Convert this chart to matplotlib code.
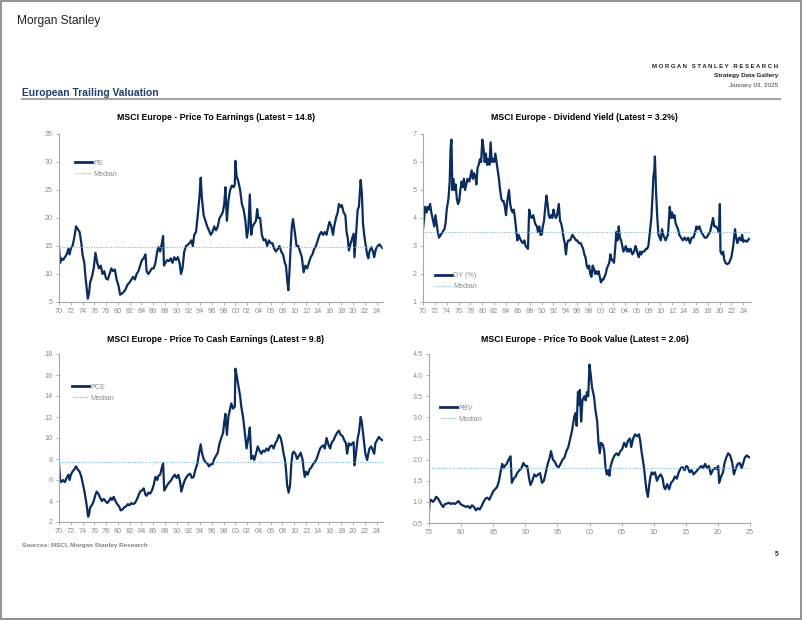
import matplotlib
matplotlib.use("Agg")
import matplotlib.pyplot as plt
from matplotlib.patches import Rectangle
from matplotlib.lines import Line2D

plt.rcParams['font.family'] = ['Liberation Sans', 'DejaVu Sans']

# ---------------- data ----------------
pe_years = [1970.0, 1970.2, 1970.4, 1970.7, 1971.0, 1971.3, 1971.6, 1971.8, 1972.0, 1972.3, 1972.6, 1972.9,
            1973.2, 1973.5, 1973.8, 1974.0, 1974.3, 1974.5, 1974.7, 1974.9, 1975.1, 1975.3, 1975.6, 1975.9,
            1976.2, 1976.5, 1976.8, 1977.1, 1977.4, 1977.7, 1978.0, 1978.3, 1978.6, 1978.9, 1979.2, 1979.5,
            1979.8, 1980.1, 1980.4, 1980.7, 1981.0, 1981.3, 1981.6, 1982.0, 1982.3, 1982.6, 1982.9, 1983.2,
            1983.5, 1983.8, 1984.1, 1984.4, 1984.7, 1984.9, 1985.2, 1985.5, 1985.8, 1986.1, 1986.4, 1986.7,
            1986.9, 1987.2, 1987.5, 1987.7, 1987.85, 1988.1, 1988.4, 1988.7, 1989.0, 1989.3, 1989.6, 1989.9,
            1990.2, 1990.5, 1990.75, 1991.0, 1991.3, 1991.6, 1991.9, 1992.2, 1992.5, 1992.75, 1993.0, 1993.3,
            1993.6, 1993.9, 1994.1, 1994.3, 1994.6, 1994.9, 1995.2, 1995.5, 1995.8, 1996.1, 1996.4, 1996.7,
            1997.0, 1997.3, 1997.6, 1997.85, 1998.1, 1998.3, 1998.55, 1998.8, 1999.1, 1999.4, 1999.7, 1999.9,
            2000.0, 2000.2, 2000.5, 2000.8, 2001.1, 2001.4, 2001.7, 2001.95, 2002.2, 2002.45, 2002.7, 2002.9,
            2003.2, 2003.5, 2003.7, 2003.9, 2004.2, 2004.5, 2004.8, 2005.1, 2005.4, 2005.7, 2006.0, 2006.3,
            2006.6, 2006.9, 2007.2, 2007.5, 2007.8, 2008.1, 2008.4, 2008.6, 2008.8, 2009.0, 2009.2, 2009.4,
            2009.6, 2009.8, 2010.1, 2010.4, 2010.7, 2011.0, 2011.3, 2011.6, 2011.9, 2012.2, 2012.5, 2012.8,
            2013.1, 2013.4, 2013.7, 2014.0, 2014.3, 2014.6, 2014.9, 2015.2, 2015.5, 2015.8, 2016.0, 2016.3,
            2016.6, 2016.8, 2017.1, 2017.4, 2017.6, 2017.9, 2018.1, 2018.4, 2018.7, 2018.9, 2019.1, 2019.3,
            2019.6, 2019.9, 2020.1, 2020.25, 2020.5, 2020.8, 2021.0, 2021.3, 2021.5, 2021.7, 2021.9, 2022.1,
            2022.4, 2022.6, 2022.8, 2023.1, 2023.4, 2023.6, 2023.9, 2024.2, 2024.5, 2024.8, 2024.95]
pe_values = [14.8, 12.0, 12.8, 12.5, 13.0, 13.5, 14.5, 13.5, 14.5, 15.0, 16.5, 18.5,
             18.0, 17.5, 15.5, 13.5, 12.0, 9.5, 7.5, 5.6, 6.5, 8.5, 9.5, 11.0,
             13.8, 12.0, 11.0, 11.5, 10.0, 10.5, 9.2, 9.0, 10.0, 11.0, 10.5, 10.8,
             9.0, 8.0, 6.3, 6.5, 6.8, 7.2, 8.0, 8.5, 9.0, 9.5, 9.0, 10.0,
             10.5, 11.5, 12.5, 12.8, 13.5, 10.5, 10.0, 10.5, 11.0, 11.0, 12.0, 14.0,
             14.8, 14.0, 15.5, 16.8, 11.5, 12.0, 12.5, 12.3, 12.8, 12.0, 13.0, 12.5,
             13.0, 12.0, 10.0, 11.0, 14.0, 15.0, 15.2, 15.5, 16.0, 15.0, 17.0, 17.5,
             20.5, 24.0, 27.2, 23.5, 20.5, 19.5, 18.5, 17.8, 17.0, 17.5, 18.5, 17.8,
             18.5, 20.0, 20.5, 21.0, 22.5, 25.5, 19.5, 23.0, 25.0, 25.8, 25.5, 26.0,
             30.2, 27.5, 26.5, 25.0, 22.5, 21.5, 19.5, 16.5, 18.0, 24.2, 17.0, 18.5,
             19.0, 19.5, 21.6, 20.0, 20.0, 17.0, 16.0, 16.2, 15.0, 16.0, 15.5, 15.5,
             14.5, 14.0, 14.5, 15.0, 14.0, 13.5, 12.0, 11.5, 9.0, 7.1, 10.5, 15.0,
             18.5, 19.8, 17.5, 15.0, 15.0, 14.0, 13.0, 10.3, 11.5, 11.0, 12.0, 13.0,
             13.5, 14.5, 15.0, 16.0, 17.0, 17.5, 17.0, 17.5, 17.0, 18.5, 19.3, 18.5,
             17.0, 18.5, 20.0, 21.0, 22.5, 22.0, 22.3, 21.0, 20.5, 17.5, 16.5, 14.2,
             15.5, 16.5, 17.2, 13.0, 17.0, 21.5, 22.0, 26.8, 24.5, 19.0, 17.0, 15.5,
             13.5, 12.8, 14.0, 14.8, 14.0, 13.0, 14.5, 15.0, 15.3, 14.8, 14.7]
pe_median = 14.8

dy_years = [1970.0, 1970.2, 1970.35, 1970.6, 1970.8, 1971.0, 1971.2, 1971.4, 1971.7, 1971.9, 1972.1, 1972.3,
            1972.5, 1972.7, 1973.0, 1973.3, 1973.6, 1973.8, 1974.0, 1974.3, 1974.5, 1974.65, 1974.8, 1974.95,
            1975.1, 1975.3, 1975.5, 1975.7, 1975.9, 1976.1, 1976.3, 1976.5, 1976.7, 1976.9, 1977.1, 1977.3,
            1977.5, 1977.8, 1978.0, 1978.2, 1978.4, 1978.6, 1978.8, 1979.0, 1979.2, 1979.4, 1979.6, 1979.8,
            1980.0, 1980.2, 1980.4, 1980.6, 1980.8, 1981.0, 1981.2, 1981.4, 1981.6, 1981.8, 1982.0, 1982.2,
            1982.4, 1982.6, 1982.8, 1983.0, 1983.2, 1983.4, 1983.6, 1983.8, 1984.0, 1984.2, 1984.5, 1984.7,
            1984.9, 1985.1, 1985.3, 1985.5, 1985.7, 1985.9, 1986.1, 1986.3, 1986.5, 1986.8, 1987.1, 1987.3,
            1987.7, 1987.9, 1988.1, 1988.3, 1988.6, 1988.9, 1989.2, 1989.4, 1989.6, 1989.8, 1990.0, 1990.2,
            1990.4, 1990.8, 1991.0, 1991.2, 1991.4, 1991.6, 1991.8, 1992.0, 1992.2, 1992.4, 1992.6, 1992.9,
            1993.1, 1993.3, 1993.5, 1993.7, 1993.9, 1994.1, 1994.3, 1994.5, 1994.8, 1995.0, 1995.2, 1995.5,
            1995.8, 1996.0, 1996.3, 1996.6, 1996.8, 1997.0, 1997.2, 1997.4, 1997.6, 1997.8, 1998.0, 1998.2,
            1998.4, 1998.6, 1998.8, 1999.0, 1999.2, 1999.4, 1999.6, 1999.8, 2000.0, 2000.2, 2000.4, 2000.6,
            2000.8, 2001.0, 2001.2, 2001.4, 2001.6, 2001.8, 2002.0, 2002.2, 2002.4, 2002.6, 2002.8, 2003.0,
            2003.2, 2003.4, 2003.6, 2003.8, 2004.0, 2004.2, 2004.4, 2004.6, 2004.8, 2005.0, 2005.3, 2005.6,
            2005.8, 2006.0, 2006.2, 2006.4, 2006.6, 2006.8, 2007.0, 2007.3, 2007.6, 2007.8, 2008.0, 2008.2,
            2008.5, 2008.7, 2008.85, 2009.0, 2009.1, 2009.3, 2009.5, 2009.7, 2009.9, 2010.1, 2010.3, 2010.5,
            2010.7, 2010.9, 2011.1, 2011.3, 2011.6, 2011.8, 2012.0, 2012.2, 2012.4, 2012.6, 2012.8, 2013.0,
            2013.2, 2013.5, 2013.8, 2014.1, 2014.4, 2014.7, 2015.0, 2015.3, 2015.6, 2015.9, 2016.1, 2016.3,
            2016.6, 2016.9, 2017.2, 2017.5, 2017.8, 2018.1, 2018.4, 2018.7, 2018.9, 2019.1, 2019.4, 2019.7,
            2019.9, 2020.05, 2020.15, 2020.4, 2020.6, 2020.8, 2021.0, 2021.3, 2021.6, 2021.8, 2022.0, 2022.3,
            2022.6, 2022.8, 2023.0, 2023.3, 2023.6, 2023.8, 2024.0, 2024.3, 2024.6, 2024.95]
dy_values = [3.6, 4.0, 4.4, 4.2, 4.4, 4.3, 4.5, 4.2, 3.9, 3.7, 4.1, 3.8,
             3.5, 3.3, 3.4, 3.5, 3.6, 3.8, 4.3, 4.7, 5.3, 6.5, 6.8, 5.0,
             5.4, 5.0, 5.2, 4.7, 4.5, 4.6, 5.0, 5.3, 5.1, 5.4, 5.0, 5.2,
             5.4, 5.3, 5.5, 5.7, 5.4, 5.6, 5.5, 5.2, 5.8, 5.9, 6.1, 6.0,
             6.8, 6.5, 6.0, 6.3, 5.9, 6.1, 5.9, 6.7, 6.0, 6.1, 6.0, 6.3,
             6.0, 5.7, 5.4, 5.0, 4.7, 4.6, 4.6, 4.4, 4.1, 4.6, 5.0, 4.5,
             4.3, 4.2, 4.3, 4.0, 3.6, 3.2, 3.4, 3.3, 3.2, 3.1, 3.2, 3.0,
             2.9, 4.3, 4.1, 4.0, 4.1, 3.8, 3.7, 3.5, 3.7, 3.4, 3.4, 3.7,
             3.9, 4.8, 4.5, 4.1, 4.0, 4.1, 4.0, 4.3, 4.1, 4.0, 4.1, 4.5,
             3.9, 3.8, 3.6, 3.3, 3.1, 2.7, 3.1, 3.2, 3.2, 3.3, 3.4, 3.3,
             3.2, 3.2, 3.1, 3.1, 3.0, 2.9, 2.7, 2.6, 2.3, 2.2, 2.3, 2.0,
             1.9, 2.3, 2.2, 2.0, 2.1, 2.0, 2.1, 1.9, 1.7, 1.8, 1.8, 1.9,
             2.0, 2.2, 2.3, 2.4, 2.7, 2.5, 2.5, 2.4, 2.9, 3.5, 3.2, 3.7,
             3.3, 3.2, 3.0, 2.8, 2.9, 3.0, 2.8, 2.9, 2.8, 2.9, 2.7, 2.8,
             3.0, 2.9, 2.7, 2.6, 2.8, 2.7, 2.8, 2.8, 2.9, 2.9, 3.0, 3.4,
             4.0, 4.8, 5.5, 5.7, 6.2, 4.9, 4.0, 3.4, 3.3, 3.2, 3.6, 3.4,
             3.3, 3.2, 3.3, 3.4, 4.4, 4.0, 4.2, 4.0, 4.1, 3.8, 3.7, 3.6,
             3.4, 3.3, 3.2, 3.3, 3.2, 3.3, 3.1, 3.3, 3.3, 3.5, 3.7, 3.6,
             3.7, 3.5, 3.4, 3.3, 3.3, 3.4, 3.5, 3.8, 4.0, 3.7, 3.7, 3.6,
             3.5, 4.5, 2.8, 2.7, 2.8, 2.5, 2.4, 2.35, 2.4, 2.5, 2.6, 3.0,
             3.6, 3.3, 3.1, 3.3, 3.2, 3.4, 3.15, 3.2, 3.15, 3.25]
dy_median = 3.5

pce_years = [1970.0, 1970.2, 1970.4, 1970.7, 1971.0, 1971.3, 1971.6, 1971.8, 1972.0, 1972.3, 1972.6, 1972.9,
             1973.2, 1973.5, 1973.8, 1974.1, 1974.3, 1974.6, 1974.8, 1974.95, 1975.1, 1975.3, 1975.6, 1975.9,
             1976.2, 1976.4, 1976.7, 1977.0, 1977.3, 1977.6, 1977.9, 1978.2, 1978.5, 1978.8, 1979.0, 1979.3,
             1979.6, 1979.9, 1980.2, 1980.5, 1980.8, 1981.1, 1981.4, 1981.7, 1982.0, 1982.3, 1982.6, 1982.9,
             1983.2, 1983.5, 1983.8, 1984.1, 1984.4, 1984.7, 1984.9, 1985.2, 1985.5, 1985.8, 1986.1, 1986.4,
             1986.7, 1986.9, 1987.2, 1987.5, 1987.7, 1987.9, 1988.2, 1988.5, 1988.8, 1989.1, 1989.4, 1989.7,
             1990.0, 1990.3, 1990.6, 1990.8, 1991.1, 1991.4, 1991.7, 1992.0, 1992.3, 1992.6, 1992.9, 1993.2,
             1993.5, 1993.8, 1994.1, 1994.3, 1994.6, 1994.9, 1995.2, 1995.5, 1995.8, 1996.1, 1996.4, 1996.7,
             1997.0, 1997.3, 1997.6, 1997.9, 1998.1, 1998.3, 1998.55, 1998.8, 1999.0, 1999.3, 1999.6, 1999.9,
             2000.0, 2000.2, 2000.5, 2000.8, 2001.0, 2001.3, 2001.6, 2001.9, 2002.2, 2002.45, 2002.7, 2003.0,
             2003.2, 2003.5, 2003.8, 2004.1, 2004.4, 2004.7, 2005.0, 2005.3, 2005.6, 2005.9, 2006.2, 2006.5,
             2006.8, 2007.1, 2007.4, 2007.7, 2007.9, 2008.2, 2008.4, 2008.6, 2008.8, 2009.05, 2009.3, 2009.5,
             2009.7, 2009.9, 2010.2, 2010.5, 2010.8, 2011.1, 2011.4, 2011.6, 2011.8, 2012.0, 2012.3, 2012.6,
             2012.9, 2013.2, 2013.5, 2013.8, 2014.1, 2014.4, 2014.7, 2015.0, 2015.2, 2015.5, 2015.8, 2016.1,
             2016.4, 2016.7, 2017.0, 2017.3, 2017.6, 2017.9, 2018.2, 2018.5, 2018.8, 2019.0, 2019.3, 2019.6,
             2019.9, 2020.1, 2020.25, 2020.5, 2020.8, 2021.0, 2021.3, 2021.5, 2021.7, 2021.9, 2022.1, 2022.4,
             2022.6, 2022.8, 2023.1, 2023.4, 2023.6, 2023.8, 2024.1, 2024.4, 2024.7, 2024.95]
pce_values = [7.5, 6.0, 5.8, 6.0, 5.8, 6.2, 6.5, 6.0, 6.5, 6.8, 7.0, 7.3,
              7.0, 6.8, 6.3, 5.5, 5.0, 4.0, 3.2, 2.5, 2.7, 3.4, 3.6, 4.0,
              4.6, 4.9, 4.7, 4.3, 4.0, 4.2, 4.0, 3.8, 4.0, 4.3, 4.1, 4.4,
              4.0, 3.7, 3.5, 3.1, 3.2, 3.4, 3.5, 3.7, 3.6, 3.8, 3.7, 3.8,
              4.1, 4.5, 4.9, 5.0, 5.2, 4.6, 4.5, 4.8, 4.7, 5.0, 5.5, 6.3,
              6.0, 6.4, 6.5, 7.2, 7.6, 5.0, 5.3, 5.6, 5.8, 6.0, 6.3, 6.5,
              6.2, 6.5, 5.8, 4.9, 5.5, 6.0, 6.3, 6.5, 6.6, 6.2, 6.3, 7.0,
              7.5, 8.5, 9.4, 8.6, 8.0, 7.7, 7.6, 7.3, 7.5, 7.5, 8.0, 8.3,
              8.6, 9.5, 10.0, 10.5, 11.5, 12.3, 10.3, 12.0, 12.5, 13.3, 12.8, 13.0,
              16.6, 16.0, 15.0, 14.0, 13.0, 12.0, 10.5, 9.0, 10.0, 11.0, 8.0, 8.3,
              7.9, 8.5, 9.2, 8.8, 8.5, 8.8, 8.7, 9.0, 8.8, 9.2, 9.3, 9.0,
              9.5, 9.8, 10.3, 10.0, 9.5, 8.5, 8.0, 7.0, 5.5, 4.8, 5.5, 7.5,
              8.5, 8.7, 8.5, 8.0, 8.3, 8.6, 8.0, 7.0, 6.3, 6.8, 6.5, 7.0,
              7.2, 7.5, 7.7, 8.0, 8.5, 9.0, 9.2, 9.3, 9.0, 10.0, 9.4, 9.0,
              9.6, 9.8, 10.2, 10.5, 10.7, 10.3, 10.2, 9.8, 9.5, 8.5, 9.5, 9.3,
              9.5, 9.6, 7.4, 8.5, 10.0, 10.5, 12.0, 11.5, 10.5, 9.5, 8.5, 7.9,
              8.5, 9.0, 9.2, 8.8, 8.5, 9.5, 9.8, 10.1, 9.9, 9.8]
pce_median = 7.7

pbv_years = [1975.0, 1975.1, 1975.3, 1975.6, 1975.9, 1976.1, 1976.4, 1976.7, 1977.0, 1977.2, 1977.5, 1977.8,
             1978.1, 1978.4, 1978.7, 1979.0, 1979.3, 1979.6, 1979.9, 1980.2, 1980.5, 1980.8, 1981.1, 1981.4,
             1981.7, 1982.0, 1982.3, 1982.6, 1982.9, 1983.2, 1983.5, 1983.8, 1984.1, 1984.4, 1984.7, 1985.0,
             1985.3, 1985.6, 1985.9, 1986.2, 1986.4, 1986.6, 1986.8, 1987.1, 1987.4, 1987.7, 1987.9, 1988.2,
             1988.5, 1988.8, 1989.1, 1989.4, 1989.7, 1990.0, 1990.3, 1990.6, 1990.8, 1991.1, 1991.4, 1991.7,
             1992.0, 1992.3, 1992.6, 1992.9, 1993.2, 1993.5, 1993.8, 1994.0, 1994.3, 1994.6, 1994.9, 1995.2,
             1995.5, 1995.8, 1996.1, 1996.4, 1996.7, 1997.0, 1997.3, 1997.6, 1997.8, 1998.0, 1998.2, 1998.35,
             1998.5, 1998.7, 1998.9, 1999.2, 1999.4, 1999.6, 1999.8, 2000.0, 2000.2, 2000.4, 2000.7, 2000.9,
             2001.2, 2001.4, 2001.6, 2001.8, 2002.1, 2002.3, 2002.5, 2002.7, 2002.9, 2003.1, 2003.3, 2003.6,
             2003.9, 2004.2, 2004.5, 2004.8, 2005.1, 2005.4, 2005.7, 2006.0, 2006.3, 2006.5, 2006.8, 2007.1,
             2007.4, 2007.7, 2007.9, 2008.1, 2008.3, 2008.5, 2008.7, 2008.9, 2009.1, 2009.3, 2009.5, 2009.7,
             2009.9, 2010.2, 2010.5, 2010.8, 2011.1, 2011.4, 2011.6, 2011.8, 2012.1, 2012.4, 2012.7, 2013.0,
             2013.3, 2013.6, 2013.9, 2014.2, 2014.5, 2014.8, 2015.1, 2015.3, 2015.6, 2015.9, 2016.2, 2016.5,
             2016.8, 2017.1, 2017.4, 2017.7, 2018.0, 2018.3, 2018.6, 2018.9, 2019.2, 2019.5, 2019.8, 2020.05,
             2020.2, 2020.5, 2020.8, 2021.0, 2021.3, 2021.6, 2021.9, 2022.2, 2022.5, 2022.8, 2023.1, 2023.4,
             2023.7, 2023.9, 2024.2, 2024.5, 2024.8, 2025.0]
pbv_values = [0.78, 1.0, 1.05, 1.0, 1.05, 1.12, 1.08, 1.0, 0.92, 0.88, 0.95, 0.96,
              0.98, 0.95, 0.97, 0.95, 0.98, 1.02, 0.95, 0.92, 0.90, 0.88, 0.90, 0.85,
              0.92, 0.88, 0.80, 0.85, 0.82, 0.90, 1.0, 1.08, 1.10, 1.05, 1.15, 1.25,
              1.30, 1.35, 1.50, 1.75, 1.90, 1.80, 1.85, 1.90, 2.0, 2.08, 1.45, 1.55,
              1.60, 1.70, 1.75, 1.80, 1.92, 1.85, 1.85, 1.55, 1.40, 1.50, 1.65, 1.60,
              1.65, 1.68, 1.45, 1.50, 1.70, 1.90, 2.05, 2.20, 2.00, 1.95, 1.85, 1.82,
              1.90, 2.00, 2.05, 2.20, 2.30, 2.50, 2.70, 3.00, 3.10, 2.80, 3.60, 3.30,
              3.65, 2.90, 3.40, 3.50, 3.40, 3.60, 3.50, 4.25, 4.00, 3.70, 3.50, 3.20,
              2.90, 2.40, 2.15, 2.40, 2.35, 2.20, 1.80, 1.65, 1.75, 1.62, 1.85, 2.00,
              2.10, 2.15, 2.10, 2.20, 2.25, 2.40, 2.30, 2.45, 2.50, 2.30, 2.50, 2.60,
              2.55, 2.60, 2.45, 2.20, 2.00, 1.80, 1.50, 1.25, 1.12, 1.40, 1.60, 1.70,
              1.65, 1.70, 1.50, 1.60, 1.65, 1.55, 1.35, 1.30, 1.42, 1.30, 1.45, 1.50,
              1.60, 1.55, 1.70, 1.80, 1.82, 1.75, 1.85, 1.82, 1.70, 1.75, 1.65, 1.70,
              1.75, 1.80, 1.85, 1.80, 1.90, 1.80, 1.85, 1.65, 1.75, 1.80, 1.78, 1.85,
              1.45, 1.60, 1.70, 1.90, 2.05, 2.15, 2.10, 1.95, 1.65, 1.80, 1.90, 1.92,
              1.80, 1.90, 2.05, 2.10, 2.06, 2.05]
pbv_median = 1.79

titles = ["MSCI Europe - Price To Earnings (Latest = 14.8)",
          "MSCI Europe - Dividend Yield (Latest = 3.2%)",
          "MSCI Europe - Price To Cash Earnings (Latest = 9.8)",
          "MSCI Europe - Price To Book Value (Latest = 2.06)"]
series_labels = ["PE", "DY (%)", "PCE", "PBV"]

# ---------------- style ----------------
W, H = 802, 620
NAVY = "#0B2C5E"
MED = "#7DBBE6"
GRAY = "#8C8C8C"
AX = "#A6A6A6"

fig = plt.figure(figsize=(W / 100, H / 100), dpi=100)
fig.patch.set_facecolor("white")

def fx(px):
    return px / W

def fy(py):
    return 1 - py / H

def make_ax(l, r, t, b):
    return fig.add_axes([fx(l), fy(b), fx(r) - fx(l), (b - t) / H])

panels = [
    dict(box=(59, 383, 134, 302), x=pe_years, y=pe_values, med=pe_median, ylim=(5, 35), yt=list(range(5, 36, 5)),
         xlim=(1970, 2025.1), xt=list(range(1970, 2025, 2)), yfmt="{:g}", title_xy=(216, 117.5),
         leg=(74.5, 165)),
    dict(box=(423, 751, 134, 302), x=dy_years, y=dy_values, med=dy_median, ylim=(1, 7), yt=list(range(1, 8)),
         xlim=(1970, 2025.3), xt=list(range(1970, 2025, 2)), yfmt="{:g}", title_xy=(584.5, 117.5),
         leg=(435, 277.5)),
    dict(box=(59, 383, 354, 522), x=pce_years, y=pce_values, med=pce_median, ylim=(2, 18), yt=list(range(2, 19, 2)),
         xlim=(1970, 2025.1), xt=list(range(1970, 2025, 2)), yfmt="{:g}", title_xy=(216, 339.5),
         leg=(72, 389)),
    dict(box=(429, 750, 354, 523), x=pbv_years, y=pbv_values, med=pbv_median, ylim=(0.5, 4.5),
         yt=[0.5 * i for i in range(1, 10)], xlim=(1975, 2025), xt=list(range(1975, 2026, 5)), yfmt="{:.1f}",
         title_xy=(585, 339), leg=(440, 410)),
]

for p, title, lab in zip(panels, titles, series_labels):
    l, r, t, b = p["box"]
    ax = make_ax(l, r, t, b)
    ax.plot(p["x"], p["y"], color=NAVY, lw=1.6, solid_joinstyle="round")
    ax.axhline(p["med"], color=MED, lw=0.8, linestyle=(0, (1, 1.2)))
    ax.set_xlim(*p["xlim"])
    ax.set_ylim(*p["ylim"])
    ax.set_yticks(p["yt"])
    ax.set_yticklabels([p["yfmt"].format(v) for v in p["yt"]])
    ax.set_xticks(p["xt"])
    ax.set_xticklabels(["{:02d}".format(v % 100) for v in p["xt"]])
    for s in ["top", "right"]:
        ax.spines[s].set_visible(False)
    for s in ["left", "bottom"]:
        ax.spines[s].set_color(AX)
        ax.spines[s].set_linewidth(0.8)
    ax.tick_params(axis="both", colors=AX, labelcolor=GRAY, labelsize=5.2, length=2, width=0.6, pad=2.5)
    ax.patch.set_alpha(0)
    fig.text(fx(p["title_xy"][0]), fy(p["title_xy"][1]), title, ha="center", va="center",
             fontsize=6.3, fontweight="bold", color="black")
    # legend
    lx, ly = p["leg"]
    ax_w = r - l
    ax_h = b - t
    leg = ax.legend([Line2D([], [], color=NAVY, lw=2),
                     Line2D([], [], color=MED, lw=0.8, linestyle=(0, (1, 1.2)))],
                    [lab, "Median"], loc="upper left",
                    bbox_to_anchor=((lx - l) / ax_w, (b - (ly - 5.5)) / ax_h),
                    frameon=False, fontsize=5.2, handlelength=2.4, handletextpad=0.15,
                    labelspacing=0.55, borderpad=0, borderaxespad=0)
    for txt in leg.get_texts():
        txt.set_color(GRAY)

# ---------------- page furniture ----------------
fig.text(fx(17), fy(21), "Morgan Stanley", ha="left", va="center", fontsize=8.6,
         family=["Liberation Sans Narrow", "Liberation Sans", "DejaVu Sans"], color="#222222")
fig.text(fx(778), fy(66), "M O R G A N   S T A N L E Y   R E S E A R C H", ha="right", va="center",
         fontsize=4.3, fontweight="bold", color="#222222")
fig.text(fx(778), fy(76), "Strategy Data Gallery", ha="right", va="center", fontsize=4.6,
         fontweight="bold", color="#222222")
fig.text(fx(778), fy(86), "January 03, 2025", ha="right", va="center", fontsize=4.6, color="#444444")
fig.text(fx(22), fy(93), "European Trailing Valuation", ha="left", va="center", fontsize=7.4,
         fontweight="bold", color="#1F3D6E")
fig.add_artist(Line2D([fx(22), fx(780)], [fy(99), fy(99)], color="#A6A6A6", lw=1.5))
fig.text(fx(22), fy(545), "Sources: MSCI, Morgan Stanley Research", ha="left", va="center", fontsize=4.6,
         fontweight="bold", color="#7F7F7F")
fig.text(fx(778), fy(554), "5", ha="right", va="center", fontsize=4.8, fontweight="bold", color="#222222")
fig.add_artist(Rectangle((0.0008, 0.001), 0.9984, 0.998, transform=fig.transFigure, fill=False,
                         edgecolor="#7F7F7F", lw=1.2))

fig.savefig("out.png", dpi=100, facecolor="white")
